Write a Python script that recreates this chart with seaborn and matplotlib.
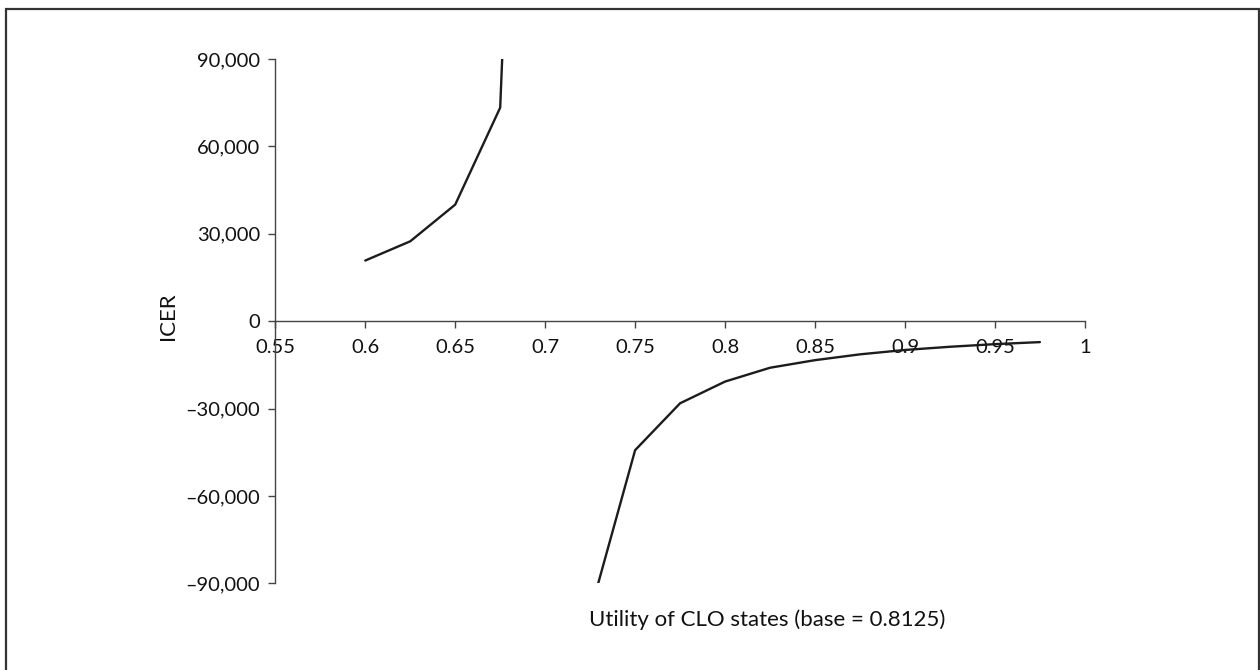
import matplotlib
matplotlib.use("Agg")
import matplotlib.pyplot as plt
from matplotlib.patches import Rectangle
import seaborn as sns
import pandas as pd

# ---- data ----
upper_utility = [0.6, 0.625, 0.65, 0.675, 0.7]
upper_icer = [20800, 27400, 40000, 73300, 450000]

lower_utility = [0.725, 0.75, 0.775, 0.8, 0.825, 0.85, 0.875, 0.9, 0.925, 0.95, 0.975]
lower_icer = [-100000, -44300, -28200, -20750, -16000, -13400, -11400, -9900, -8800, -7900, -7200]

x_ticks = [0.55, 0.6, 0.65, 0.7, 0.75, 0.8, 0.85, 0.9, 0.95, 1.0]
x_tick_labels = ["0.55", "0.6", "0.65", "0.7", "0.75", "0.8", "0.85", "0.9", "0.95", "1"]
y_ticks = [-90000, -60000, -30000, 0, 30000, 60000, 90000]
y_tick_labels = ["\u201390,000", "\u201360,000", "\u201330,000", "0", "30,000", "60,000", "90,000"]

x_label = "Utility of CLO states (base = 0.8125)"
y_label = "ICER"

df = pd.DataFrame({
    "utility": upper_utility + lower_utility,
    "icer": upper_icer + lower_icer,
    "branch": ["upper"] * len(upper_utility) + ["lower"] * len(lower_utility),
})

sns.set_style("white")
plt.rcParams["font.family"] = ["Lato", "DejaVu Sans"]

fig = plt.figure(figsize=(12.6, 6.7), dpi=100)
ax = fig.add_axes([0.2185, 0.1294, 0.861 - 0.2185, 0.912 - 0.1294])

sns.lineplot(data=df, x="utility", y="icer", units="branch", estimator=None,
             sort=False, color="#1e1b1c", linewidth=1.7, ax=ax, legend=False)

ax.set_xlim(0.55, 1.0)
ax.set_ylim(-90000, 90000)

ax.spines["top"].set_visible(False)
ax.spines["right"].set_visible(False)
ax.spines["bottom"].set_position(("data", 0))
for s in ("left", "bottom"):
    ax.spines[s].set_color("#444444")
    ax.spines[s].set_linewidth(1.0)

ax.set_xticks(x_ticks)
ax.set_xticklabels(x_tick_labels)
ax.set_yticks(y_ticks)
ax.set_yticklabels(y_tick_labels)
ax.tick_params(axis="both", direction="out", length=5, width=1.0, color="#444444",
               labelsize=14.5, labelcolor="#111111", bottom=True, left=True)
ax.tick_params(axis="x", pad=8)
ax.tick_params(axis="y", pad=6)
ax.grid(False)

ax.set_xlabel(x_label, fontsize=16, color="#111111", va="center")
ax.xaxis.set_label_coords(0.608, -0.07)
ax.set_ylabel(y_label, fontsize=16, color="#111111", va="center")
ax.yaxis.set_label_coords(-0.1325, 0.51)

# frame around the figure
fig.patches.append(Rectangle((6 / 1260, -0.02), (1259 - 6) / 1260, 1 - 9 / 670 + 0.02,
                             transform=fig.transFigure, fill=False,
                             edgecolor="#333333", linewidth=1.6))

fig.savefig("out.png", dpi=100, facecolor="white")
